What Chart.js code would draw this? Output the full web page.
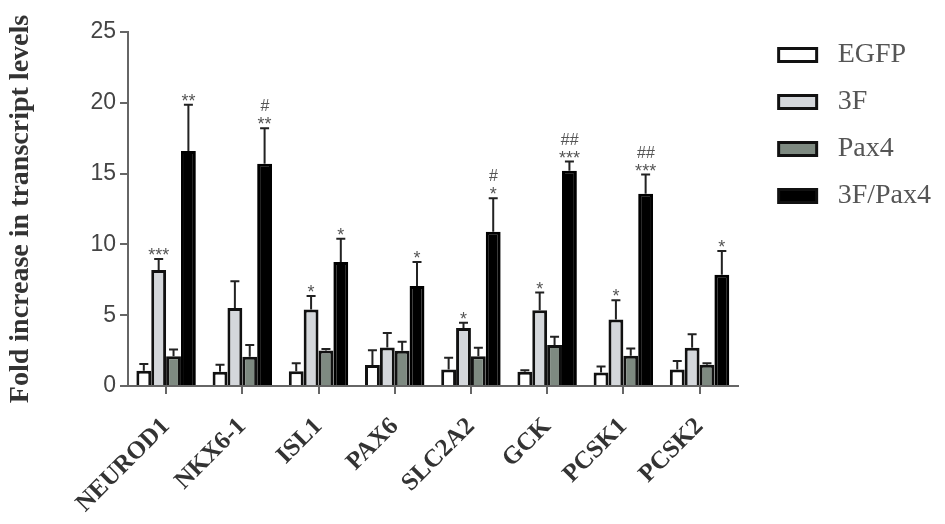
<!DOCTYPE html>
<html>
<head>
<meta charset="utf-8">
<script src="https://cdn.jsdelivr.net/npm/chart.js@4.4.0/dist/chart.umd.min.js"></script>
<style>
  html, body { margin: 0; padding: 0; background: #fff; }
  #wrap { width: 945px; height: 524px; position: relative; }
</style>
</head>
<body>
<div id="wrap"><canvas id="bar-chart"></canvas></div>
<script>
// genes on the x axis
var genes = ["NEUROD1", "NKX6-1", "ISL1", "PAX6", "SLC2A2", "GCK", "PCSK1", "PCSK2"];

// fold increase, mean and error (upper bar only)
var egfp      = [1.08, 1.0, 1.05, 1.48, 1.17, 1.0, 0.95, 1.17];
var egfpErr   = [0.47, 0.5, 0.55, 1.05, 0.83, 0.12, 0.42, 0.59];
var f3        = [8.2, 5.5, 5.4, 2.72, 4.1, 5.35, 4.7, 2.7];
var f3Err     = [0.77, 1.9, 0.96, 1.03, 0.36, 1.25, 1.36, 0.96];
var pax4      = [2.1, 2.07, 2.5, 2.49, 2.1, 2.89, 2.14, 1.5];
var pax4Err   = [0.48, 0.83, 0.12, 0.63, 0.6, 0.58, 0.51, 0.1];
var f3pax4    = [16.6, 15.7, 8.75, 7.06, 10.9, 15.2, 13.57, 7.86];
var f3pax4Err = [3.26, 2.5, 1.65, 1.69, 2.36, 0.65, 1.36, 1.67];

// significance marks
var star3F     = ["***", "", "*", "", "*", "*", "*", ""];
var starCombo  = ["**", "**", "*", "*", "*", "***", "***", "*"];
var hashCombo  = ["", "#", "", "", "#", "##", "##", ""];

var yTicks = [0, 5, 10, 15, 20, 25];

var axisGray = "#666";

// error bars + marks
var errorBars = {
  id: "errorBars",
  afterDatasetsDraw: function(chart) {
    var ctx = chart.ctx;
    var y = chart.scales.y;
    ctx.save();
    chart.data.datasets.forEach(function(ds, d) {
      var meta = chart.getDatasetMeta(d);
      meta.data.forEach(function(bar, i) {
        var top = y.getPixelForValue(ds.data[i] + ds.err[i]);
        ctx.strokeStyle = "#222";
        ctx.lineWidth = 2;
        ctx.beginPath();
        ctx.moveTo(bar.x, bar.y);
        ctx.lineTo(bar.x, top);
        ctx.moveTo(bar.x - 4.5, top);
        ctx.lineTo(bar.x + 4.5, top);
        ctx.stroke();
        ctx.fillStyle = "#555";
        ctx.textAlign = "center";
        ctx.textBaseline = "alphabetic";
        if (ds.stars && ds.stars[i]) {
          ctx.font = "18px 'Liberation Sans'";
          ctx.fillText(ds.stars[i], bar.x, top + 2);
        }
        if (ds.hash && ds.hash[i]) {
          ctx.font = "italic 16px 'Liberation Sans'";
          ctx.fillText(ds.hash[i], bar.x, top - 17);
        }
      });
    });
    ctx.restore();
  }
};

new Chart(document.getElementById("bar-chart"), {
  type: "bar",
  data: {
    labels: genes,
    datasets: [
      { label: "EGFP", data: egfp, err: egfpErr, backgroundColor: "#ffffff", borderColor: "#111", borderWidth: 3 },
      { label: "3F", data: f3, err: f3Err, stars: star3F, backgroundColor: "#d4d7db", borderColor: "#111", borderWidth: 3 },
      { label: "Pax4", data: pax4, err: pax4Err, backgroundColor: "#7e8a81", borderColor: "#111", borderWidth: 3 },
      { label: "3F/Pax4", data: f3pax4, err: f3pax4Err, stars: starCombo, hash: hashCombo, backgroundColor: "#000", borderColor: "#000", borderWidth: 3 }
    ]
  },
  options: {
    responsive: true,
    maintainAspectRatio: false,
    animation: false,
    layout: { padding: { top: 22, right: 4, bottom: 0, left: 0 } },
    datasets: { bar: { categoryPercentage: 0.78, barPercentage: 1.0 } },
    plugins: {
      tooltip: { enabled: false },
      legend: {
        display: true,
        position: "right",
        align: "start",
        labels: {
          boxWidth: 38,
          boxHeight: 13,
          padding: 19,
          color: "#555",
          font: { family: "'Liberation Serif'", size: 28 },
          generateLabels: function(chart) {
            var items = Chart.defaults.plugins.legend.labels.generateLabels(chart);
            items.forEach(function(it) { it.text = " " + it.text; it.lineWidth = 3; it.strokeStyle = "#111"; });
            return items;
          }
        }
      }
    },
    scales: {
      x: {
        grid: { display: true, drawOnChartArea: false, offset: false, tickLength: 8, color: axisGray, lineWidth: 2 },
        border: { color: axisGray, width: 2 },
        ticks: {
          minRotation: 45, maxRotation: 45, padding: 18,
          color: "#333",
          font: { family: "'Liberation Serif'", size: 25, weight: "bold" }
        },
        afterFit: function(s) { s.height = 138; }
      },
      top: {
        position: "top", type: "linear", display: false,
        afterFit: function(s) { s.height = 10; }
      },
      y: {
        min: 0, max: 25,
        afterBuildTicks: function(s) { s.ticks = yTicks.map(function(v) { return { value: v }; }); },
        grid: { display: true, drawOnChartArea: false, tickLength: 8, color: axisGray, lineWidth: 2 },
        border: { color: axisGray, width: 2 },
        ticks: { color: "#444", padding: 4, font: { family: "'Liberation Sans'", size: 23 } },
        title: {
          display: true,
          text: "Fold increase in transcript levels",
          color: "#333",
          padding: { top: 4, bottom: 0 },
          font: { family: "'Liberation Serif'", size: 28, weight: "bold" }
        },
        afterFit: function(s) { s.width = 128; }
      },
      right: {
        position: "right", type: "linear", display: false,
        afterFit: function(s) { s.width = 22; }
      }
    }
  },
  plugins: [errorBars]
});
</script>
</body>
</html>
